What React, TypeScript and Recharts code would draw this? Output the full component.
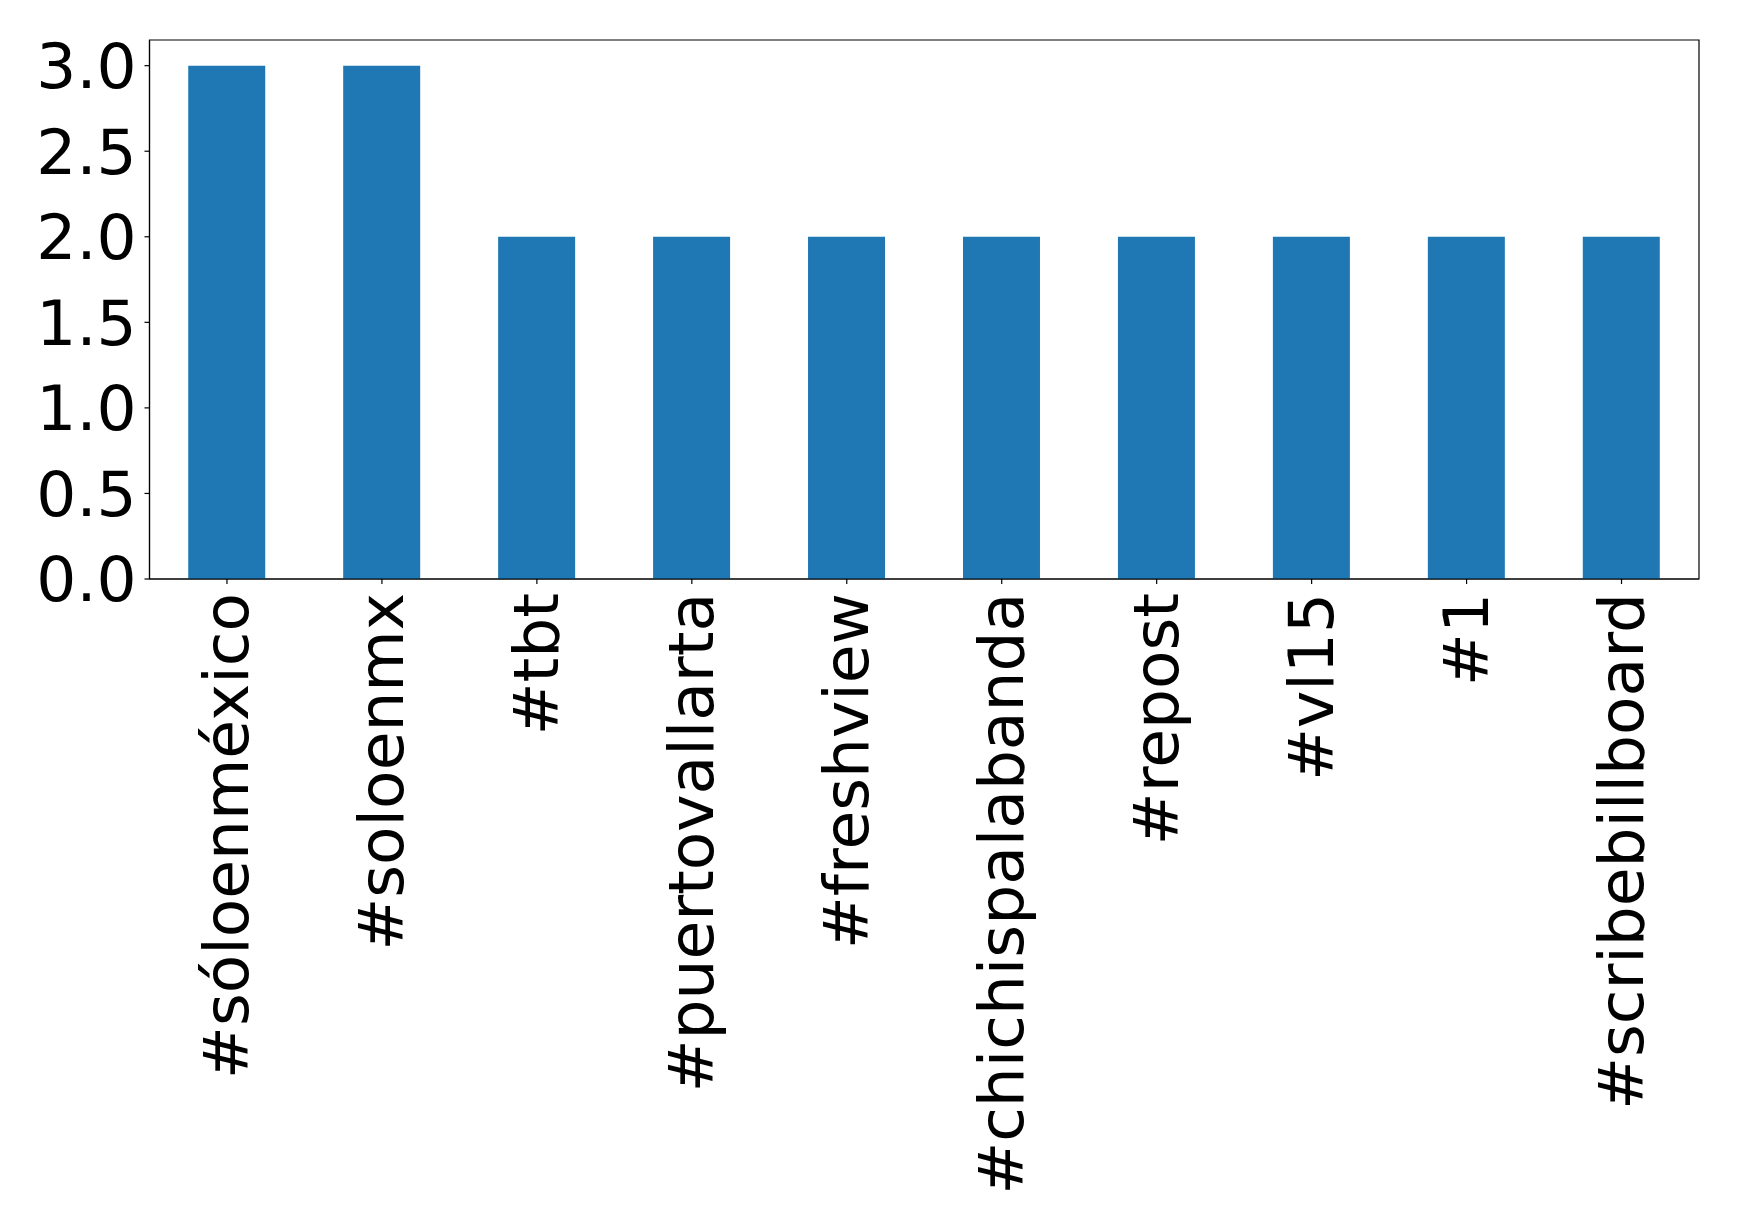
import { BarChart, Bar, XAxis, YAxis, ReferenceArea } from "recharts";

const hashtags = [
  "#sóloenméxico",
  "#soloenmx",
  "#tbt",
  "#puertovallarta",
  "#freshview",
  "#chichispalabanda",
  "#repost",
  "#vl15",
  "#1",
  "#scribebillboard",
];
const counts = [3, 3, 2, 2, 2, 2, 2, 2, 2, 2];
const yTicks = [0, 0.5, 1.0, 1.5, 2.0, 2.5, 3.0];
const yMax = 3.15;

const data = hashtags.map((tag, i) => ({ tag, count: counts[i] }));

const FONT = "'DejaVu Sans', sans-serif";

function RotatedTick({ x, y, payload }: any) {
  return (
    <text
      transform={`translate(${x},${y + 9}) rotate(-90)`}
      textAnchor="end"
      dominantBaseline="central"
      fontSize={63}
      fontFamily={FONT}
      fill="#000"
    >
      {payload.value}
    </text>
  );
}

export default function App() {
  return (
    <div style={{ position: "absolute", left: 0, top: 0, background: "#fff" }}>
      <BarChart
        width={1739}
        height={1225}
        data={data}
        margin={{ top: 40, right: 40, bottom: 0, left: 0 }}
        barCategoryGap="25%"
      >
        <XAxis
          dataKey="tag"
          interval={0}
          height={646}
          tickSize={5}
          tickMargin={0}
          tick={<RotatedTick />}
          axisLine={{ stroke: "#000", strokeWidth: 1.2 }}
          tickLine={{ stroke: "#000", strokeWidth: 1.2 }}
        />
        <YAxis
          domain={[0, yMax]}
          ticks={yTicks}
          width={149.5}
          tickSize={5}
          tickMargin={8}
          tickFormatter={(v: number) => v.toFixed(1)}
          tick={{ fontSize: 63, fontFamily: FONT, fill: "#000" }}
          axisLine={{ stroke: "#000", strokeWidth: 1.2 }}
          tickLine={{ stroke: "#000", strokeWidth: 1.2 }}
        />
        <Bar dataKey="count" fill="#1f77b4" isAnimationActive={false} />
        <ReferenceArea
          y1={0}
          y2={yMax}
          fill="none"
          fillOpacity={0}
          stroke="#000"
          strokeWidth={1.2}
          ifOverflow="visible"
        />
      </BarChart>
    </div>
  );
}
